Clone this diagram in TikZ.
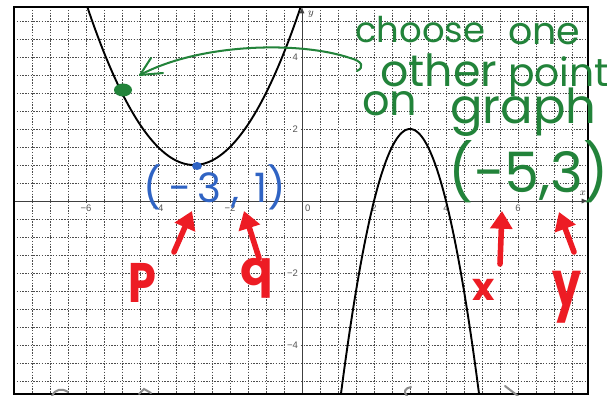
\documentclass[tikz,border=0pt]{standalone}
\usepackage{fontspec}
\usepackage{graphicx}
\setmainfont{Liberation Sans}
\newfontfamily\hand{Poppins}
\usetikzlibrary{arrows.meta}
\definecolor{hgreen}{RGB}{34,131,58}
\definecolor{hblue}{RGB}{48,100,196}
\definecolor{hred}{RGB}{237,28,36}
\definecolor{tickc}{RGB}{85,85,85}
\tikzset{
  gridline/.style={draw=black!70, line width=0.5pt, dash pattern=on 1.1pt off 1.1pt},
  axisline/.style={draw=black!75, line width=0.7pt},
  frameline/.style={draw=black, line width=1.5pt},
  curve/.style={draw=black, line width=1.5pt},
  ticklab/.style={font=\fontsize{7.5}{8}\selectfont, text=tickc, fill=white, inner sep=0.6pt},
  hgtext/.style={font=\hand\fontsize{#1}{#1}\selectfont, text=hgreen, inner sep=0pt, anchor=base west},
  hbtext/.style={font=\hand\fontsize{#1}{#1}\selectfont, text=hblue, inner sep=0pt, anchor=base west},
  hrtext/.style={font=\hand\bfseries\fontsize{#1}{#1}\selectfont, text=hred, inner sep=0pt, anchor=base west},
  redarrow/.style={draw=hred, line width=4.4pt, line cap=round, -{Triangle[length=14pt,width=17pt]}},
  greenstroke/.style={draw=hgreen, line width=1.6pt, line cap=round, line join=round},
  graybit/.style={draw=black!45, line width=1.6pt, line cap=round}
}
\begin{document}
\begin{tikzpicture}[x=0.0277778cm, y=-0.0277778cm]
\useasboundingbox (0,0) rectangle (615,396);
\fill[white] (0,0) rectangle (615,396);
% grid (0.5 unit = 18 px)
\foreach \i in {-15,...,-1,1,2,...,15} {
  \draw[gridline] ({302+18*\i},7) -- ({302+18*\i},394);
}
\foreach \j in {-10,...,-1,1,2,...,10} {
  \draw[gridline] (14,{201+18*\j}) -- (588,{201+18*\j});
}
% axes
\coordinate (xl) at (14,201);
\coordinate (xr) at (588,201);
\coordinate (yb) at (302,394);
\coordinate (yt) at (302,7);
\draw[axisline, -{Latex[length=5pt,width=4pt]}] (xl) -- (xr);
\draw[axisline, -{Latex[length=5pt,width=4pt]}] (yb) -- (yt);
% tick labels
\foreach \u/\t in {-6/−6,-4/−4,-2/−2,2/2,4/4,6/6} {
  \node[ticklab, anchor=north] (tx\u) at ({302+36*\u},204) {\t};
}
\node[ticklab, anchor=north west] (t0) at (304,204) {0};
\foreach \v/\t in {4/4,2/2,-2/−2,-4/−4} {
  \node[ticklab, anchor=east] (ty\v) at (299,{201-36*\v}) {\t};
}
\node[font=\fontsize{8}{9}\selectfont\itshape, inner sep=0pt, text=black!80] (ylab) at (311,14) {$y$};
\node[font=\fontsize{8}{9}\selectfont\itshape, inner sep=0pt, text=black!80] (xlab) at (583,193) {$x$};
% frame
\draw[frameline] (14,7) rectangle (588,394);
% curves
\draw[curve] plot[domain=-5.96:-0.04, samples=90, smooth] ({302+36*\x},{201-36*(0.5*(\x+3)*(\x+3)+1)});
\draw[curve] plot[domain=1.08:4.92, samples=90, smooth] ({302+36*\x},{201-36*(2-2*(\x-3)*(\x-3))});
% gray bits at bottom edge
\draw[graybit] (52,396) .. controls (55,389) and (62,388) .. (68,392);
\draw[graybit] (139,394) -- (144,389) -- (151,393);
\draw[graybit] (407,396) .. controls (403,392) and (405,388) .. (411,387);
\draw[graybit] (505,386) -- (518,396);
% green annotation
\node[hgtext=28] (choose) at (355,43) {choose};
\node[hgtext=30] (one) at (508,45) {one};
\node[hgtext=35] (other) at (380,87) {other};
\node[hgtext=31] (point) at (508,87) {point};
\node[hgtext=34] (on) at (362,116) {on};
\node[hgtext=38] (graph) at (450,124) {graph};
\node[hgtext=44] (pt53) at (448,193) {(−5,3)};
\coordinate (gstart) at (357,71);
\coordinate (gtip) at (140,75);
\draw[greenstroke] (gstart) .. controls (365,67) and (362,61) .. (350,58)
   .. controls (300,41) and (200,43) .. (gtip);
\draw[greenstroke] (gtip) -- (151,58);
\draw[greenstroke] (gtip) -- (163,73);
\fill[hgreen] (123,90) ellipse [x radius=9, y radius=6.5];
% blue annotation
\fill[hblue] (197,166) ellipse [x radius=5, y radius=4];
\node[hbtext=32] (pt31) at (143,203) {(\,−\,3\hspace{8pt},\hspace{12pt}1)};
% red annotation
\coordinate (a1s) at (174,252); \coordinate (a1e) at (192,211);
\coordinate (a2s) at (259,258); \coordinate (a2e) at (244,211);
\coordinate (a3s) at (500,264); \coordinate (a3e) at (502,211);
\coordinate (a4s) at (574,252); \coordinate (a4e) at (559,212);
\draw[redarrow] (a1s) -- (a1e);
\draw[redarrow] (a2s) -- (a2e);
\draw[redarrow] (a3s) -- (a3e);
\draw[redarrow] (a4s) -- (a4e);
\node[hrtext=44] (P) at (128,303) {\scalebox{0.8}[1]{P}};
\node[hrtext=38] (q) at (240,286) {q};
\node[hrtext=30] (xr) at (472,300) {x};
\node[hrtext=50] (yr) at (552,307) {\scalebox{0.72}[1]{y}};
\end{tikzpicture}
\end{document}
